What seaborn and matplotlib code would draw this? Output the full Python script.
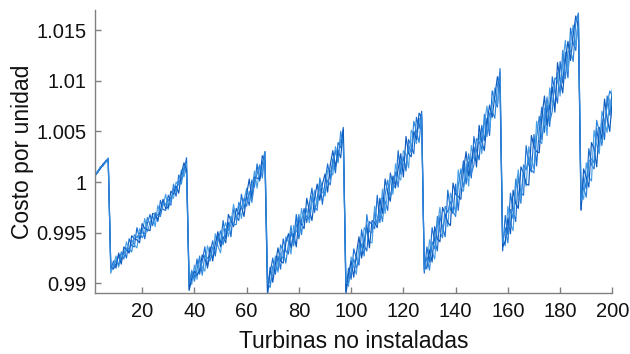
import numpy as np
import pandas as pd
import matplotlib
matplotlib.use("Agg")
import matplotlib.pyplot as plt
import seaborn as sns

# x positions (turbines not installed)
x_vals = list(range(2, 201))

# Series values in units of 1e-4 relative to 1.0 (cost per unit = 1 + v/1e4)
serie_a = [7, 11, 14, 16, 21, 23,
           -87, -78, -85, -70, -77, -68, -75, -56, -63, -64, -45, -56, -45, -56, -41, -32, -43, -34, -39, -18, -27, -28, -13, -19, -6, -14, 7, 2, 11, 24,
           -106, -89, -94, -76, -91, -78, -64, -85, -70, -58, -73, -53, -60, -38, -56, -40, -54, -26, -34, -38, -12, -26, -14, -23, 2, -5, 18, 1, 18, 30,
           -109, -90, -75, -91, -73, -86, -56, -68, -71, -49, -59, -32, -56, -38, -26, -40, -22, -6, -30, -16, 0, -22, 0, 18, 3, 23, 9, 39, 34, 54,
           -108, -85, -96, -66, -75, -82, -47, -63, -68, -39, -42, -46, -13, -40, -15, -19, -28, 9, -2, -6, 31, 8, 25, 11, 42, 35, 28, 64, 53, 70,
           -90, -64, -79, -45, -58, -68, -33, -45, -54, -8, -27, -31, -2, -28, 1, 21, -2, 20, 4, 45, 31, 22, 56, 41, 63, 46, 90, 81, 74, 112,
           -68, -33, -52, -11, -28, -39, 6, -11, -13, 36, 17, 10, 47, 16, 51, 74, 49, 76, 55, 104, 89, 78, 119, 98, 128, 103, 152, 137, 130, 165,
           -28, 5, -7, 33, 17, 13, 53, 34, 62, 42, 85, 66, 92]
serie_b = [8, 9, 15, 17, 19, 24,
           -90, -82, -73, -84, -71, -72, -59, -70, -57, -62, -65, -46, -51, -36, -49, -40, -33, -44, -23, -32, -23, -12, -27, -15, -16, 0, -3, 12, 5, 18,
           -96, -101, -82, -96, -77, -84, -88, -63, -72, -74, -51, -63, -70, -48, -40, -54, -40, -22, -38, -22, -36, -18, -6, -19, -8, 11, -6, 15, 10, 27,
           -92, -100, -91, -73, -89, -70, -76, -54, -59, -71, -43, -48, -52, -26, -40, -26, -40, -22, -8, -24, -4, -10, -14, 12, 11, 7, 35, 23, 42, 44,
           -94, -103, -74, -84, -91, -62, -73, -45, -50, -59, -60, -24, -35, -36, -7, -31, -8, 3, -12, 18, 5, 2, 31, 27, 14, 51, 46, 38, 63, 56,
           -82, -86, -57, -69, -76, -44, -25, -51, -32, -44, -11, -19, -30, 12, -7, -9, 18, -4, 36, 23, 21, 48, 28, 57, 75, 52, 76, 93, 76, 100,
           -54, -63, -24, -41, -48, -7, 12, -17, 9, -4, 35, 22, 13, 60, 41, 38, 73, 46, 93, 80, 75, 108, 85, 118, 140, 109, 136, 155, 134, 161,
           -9, -17, 19, 5, 1, 51, 37, 28, 70, 60, 49, 82, 63]
serie_c = [6, 10, 13, 18, 20, 22,
           -83, -86, -81, -72, -81, -64, -67, -70, -53, -56, -57, -60, -41, -46, -47, -48, -31, -32, -37, -28, -17, -26, -25, -9, -12, -4, -11, 8, 19, 12,
           -107, -95, -88, -92, -87, -72, -76, -83, -64, -78, -61, -49, -64, -54, -60, -32, -38, -44, -26, -32, -24, -34, -12, 3, -16, 5, 4, 3, 26, 21,
           -111, -84, -99, -81, -65, -78, -80, -60, -51, -65, -51, -64, -36, -42, -46, -16, -28, -38, -16, -2, -18, -2, 8, -10, 17, 31, 15, 31, 24, 52,
           -111, -91, -78, -94, -71, -54, -75, -59, -42, -65, -38, -40, -45, -16, -31, 3, -10, -19, 6, -4, 13, 28, 5, 45, 28, 25, 50, 42, 68, 64,
           -86, -84, -67, -79, -44, -56, -59, -25, -32, -40, -43, -1, -12, -14, -17, 11, 30, 6, 20, 35, 15, 56, 40, 31, 59, 76, 64, 85, 104, 92,
           -64, -59, -36, -51, -8, -21, -26, 15, 9, -2, -3, 46, 35, 30, 29, 64, 85, 56, 75, 94, 69, 118, 101, 88, 120, 139, 120, 145, 164, 153,
           -27, 13, 5, -5, 39, 33, 15, 54, 42, 82, 63, 50, 83]
serie_d = [7, 10, 15, 16, 20, 23,
           -85, -84, -77, -82, -69, -76, -65, -66, -69, -52, -55, -50, -55, -50, -35, -42, -41, -30, -33, -34, -21, -22, -17, -23, -2, -10, 1, -2, 15, 8,
           -100, -87, -98, -86, -73, -92, -72, -75, -78, -64, -69, -59, -48, -62, -46, -48, -34, -42, -42, -20, -26, -16, -24, -9, -20, -1, 8, 17, 4, 30,
           -100, -104, -83, -85, -87, -62, -68, -80, -61, -43, -63, -44, -32, -52, -30, -34, -36, -14, -24, -28, 4, -6, -12, 2, -3, 19, 31, 19, 50, 36,
           -100, -99, -88, -76, -85, -76, -61, -73, -32, -49, -50, -30, -43, -26, -39, -13, 2, -15, -4, 10, -5, 22, 17, 17, 36, 29, 60, 50, 39, 66,
           -88, -74, -87, -59, -66, -34, -49, -55, -24, -30, -19, -29, -34, -4, 13, -5, 8, 28, 8, 17, 43, 40, 32, 67, 45, 68, 70, 63, 96, 108,
           -60, -45, -60, -27, -36, 3, -12, -21, 17, 12, 25, 12, 9, 44, 65, 42, 61, 84, 59, 70, 103, 100, 89, 130, 102, 129, 130, 119, 158, 167,
           -19, -5, -15, 21, 23, 19, 61, 50, 36, 58, 75, 90, 85]

series_names = ["A", "B", "C", "D"]
y_ticks = [0.99, 0.995, 1.0, 1.005, 1.01, 1.015]
y_tick_labels = ["0.99", "0.995", "1", "1.005", "1.01", "1.015"]
x_ticks = [20, 40, 60, 80, 100, 120, 140, 160, 180, 200]

frames = []
for name, vals in zip(series_names, [serie_a, serie_b, serie_c, serie_d]):
    frames.append(pd.DataFrame({
        "x": x_vals,
        "costo": 1.0 + np.array(vals, dtype=float) / 1e4,
        "serie": name,
    }))
df = pd.concat(frames, ignore_index=True)

sns.set_theme(style="white")
plt.rcParams["font.family"] = ["Liberation Sans", "DejaVu Sans"]

fig = plt.figure(figsize=(6.3, 3.54), dpi=100)
ax = fig.add_axes([0.151, 0.171, 0.821, 0.801])

palette = {"A": "#1b6fd0", "B": "#4aa0e6", "C": "#0d5bbd", "D": "#2f86da"}
sns.lineplot(data=df, x="x", y="costo", hue="serie", palette=palette,
             estimator=None, sort=False, linewidth=0.85, legend=False, ax=ax)

ax.set_xlim(2, 200)
ax.set_ylim(0.989, 1.017)
ax.set_xticks(x_ticks)
ax.set_xticklabels([str(t) for t in x_ticks])
ax.set_yticks(y_ticks)
ax.set_yticklabels(y_tick_labels)

for side in ["top", "right"]:
    ax.spines[side].set_visible(False)
for side in ["left", "bottom"]:
    ax.spines[side].set_color("#808080")
    ax.spines[side].set_linewidth(1.0)

ax.tick_params(axis="both", direction="in", length=4, width=1.0,
               color="#808080", labelsize=14.5, labelcolor="#111111",
               left=True, bottom=True, pad=6)

ax.set_xlabel("Turbinas no instaladas", fontsize=16.5, color="#111111", labelpad=6.5)
ax.set_ylabel("Costo por unidad", fontsize=16.5, color="#111111", labelpad=1.5)

fig.savefig("out.png", dpi=100)
